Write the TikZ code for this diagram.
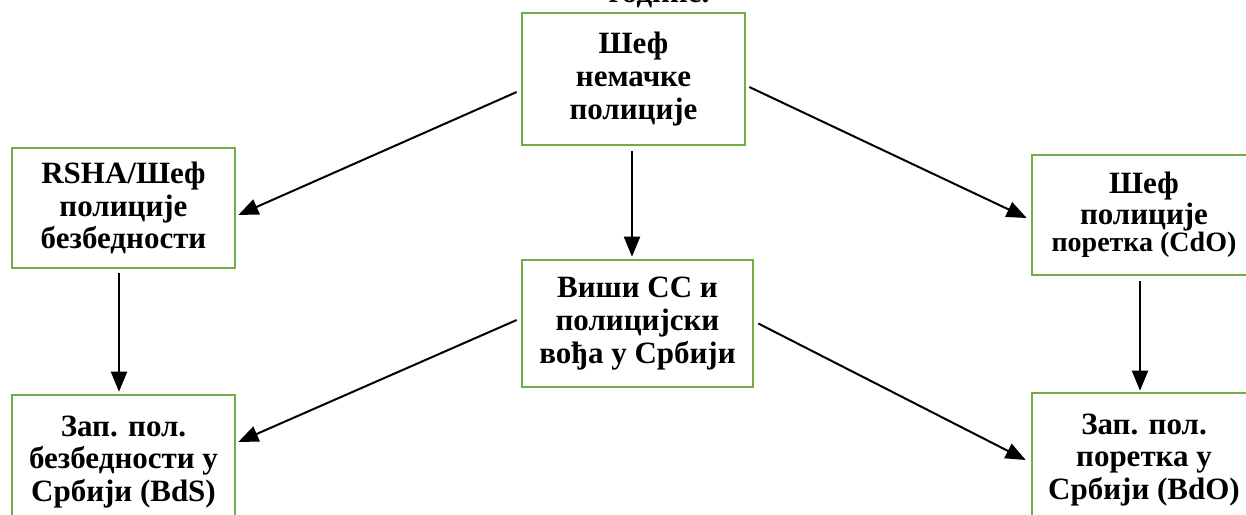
\documentclass[tikz,border=0pt]{standalone}
\usepackage{fontspec}
\setmainfont{Liberation Serif}
\usepackage{tikz}
\usetikzlibrary{calc,arrows.meta}
\definecolor{boxgreen}{HTML}{70AD47}
\def\drawarrow{\draw[line width=1pt,-{Triangle[length=10pt,width=8pt]}]}
\def\unitnode{\node[draw=boxgreen,line width=1.3pt,align=center,inner sep=0pt,font=\bfseries\fontsize{15.5}{16.4}\selectfont]}

\begin{document}
\begin{tikzpicture}[x=0.5pt,y=-0.5pt]
\useasboundingbox (0,0) rectangle (1246,514);

% the tail of the caption above, cut by the page
\node[anchor=base,font=\bfseries\fontsize{15.5}{16.4}\selectfont] (caption) at (659,3) {године.};

% -------- top and middle row ---------
\unitnode[minimum width=111.5pt,minimum height=66pt] (chief) at (633.5,79) {Шеф\\немачке\\полиције};
\unitnode[minimum width=111.5pt,minimum height=60pt] (rsha) at (123.5,208) {RSHA/Шеф\\полиције\\безбедности};
\unitnode[minimum width=112pt,minimum height=60pt,font=\bfseries\fontsize{15.5}{13.8}\selectfont] (cdo) at (1144,215) {Шеф\\полиције\\{\fontsize{14}{13.8}\selectfont поретка (CdO)}};
\unitnode[minimum width=115.5pt,minimum height=63.5pt] (hsspf) at (637.5,323.5) {Виши СС и\\полицијски\\вођа у Србији};

% -------- bottom row (cut by the page) ---------
\unitnode[minimum width=111.5pt,minimum height=67pt] (bds) at (123.5,462) {Зап. пол.\\безбедности у\\Србији (BdS)};
\unitnode[minimum width=112pt,minimum height=67pt] (bdo) at (1144,460) {Зап. пол.\\поретка у\\Србији (BdO)};

% -------- arrows ---------
\drawarrow ($ (chief.west) + (-4,13) $) -- ($ (rsha.east) + (2,7) $);
\drawarrow ($ (chief.east) + (3,8) $) -- ($ (cdo.west) + (-4,3) $);
\drawarrow ($ (chief.south) + (-1.5,5) $) -- ($ (chief.south |- hsspf.north) + (-1.5,-2) $);
\drawarrow ($ (rsha.south) + (-4.5,4) $) -- ($ (rsha.south |- bds.north) + (-4.5,-2) $);
\drawarrow ($ (cdo.south) + (-4,5) $) -- ($ (cdo.south |- bdo.north) + (-4,-1) $);
\drawarrow ($ (hsspf.west) + (-4,-3.5) $) -- ($ (bds.east) + (2,-20) $);
\drawarrow ($ (hsspf.east) + (4,0) $) -- ($ (bdo.west) + (-5,0) $);
\end{tikzpicture}
\end{document}
